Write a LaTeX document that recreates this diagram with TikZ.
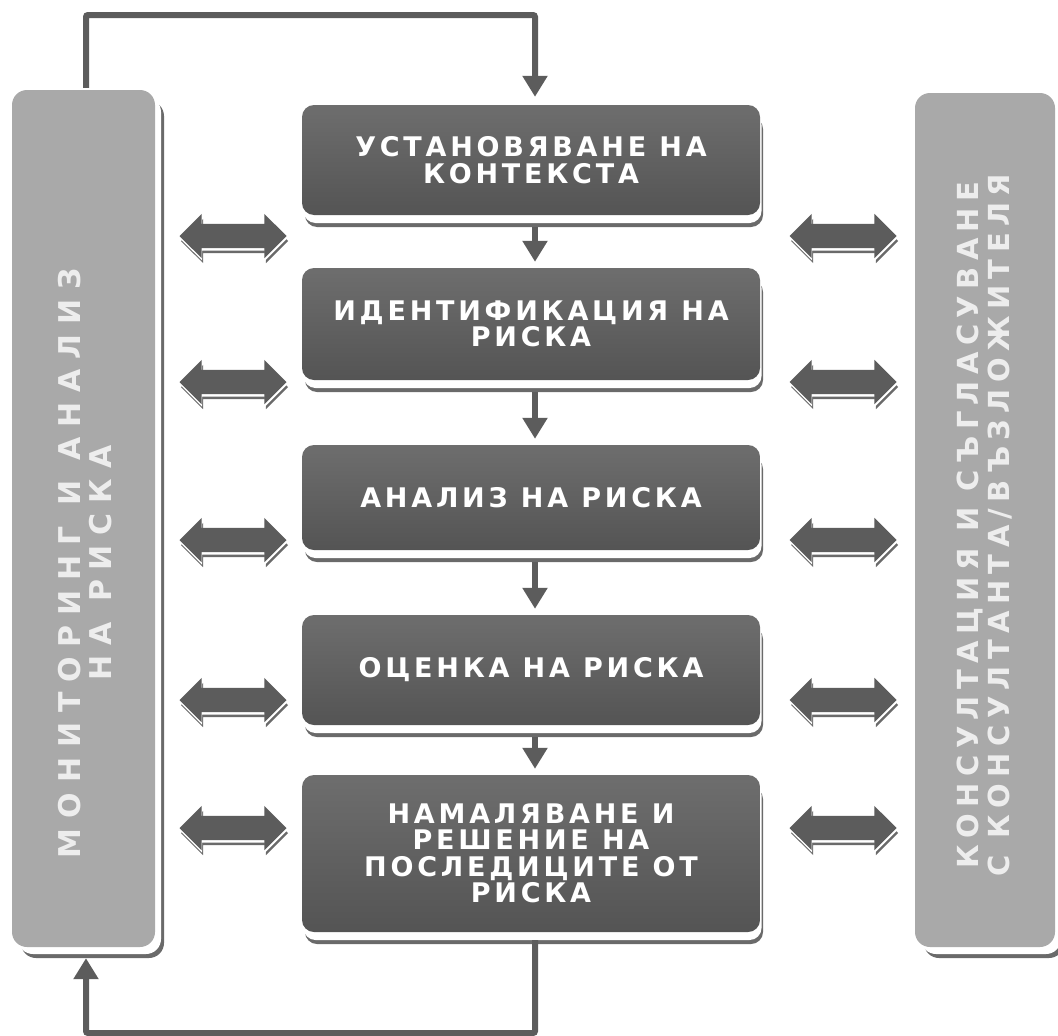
\documentclass[tikz,border=0pt]{standalone}
\usepackage{fontspec}
\usetikzlibrary{shapes.arrows,shadows,arrows.meta,calc}
\newfontfamily\boxfont{DejaVu Sans Bold}[LetterSpace=14]
\newfontfamily\lsidefont{DejaVu Sans Bold}[LetterSpace=33]
\newfontfamily\rsidefont{DejaVu Sans Bold}[LetterSpace=22]
\definecolor{sidegray}{HTML}{A9A9A9}
\definecolor{linegray}{HTML}{5C5C5C}
\definecolor{shadowgray}{HTML}{6A6A6A}
\definecolor{sidetext}{HTML}{EDEDED}
\tikzset{
  procbox/.style={rounded corners=12pt, minimum width=458pt, inner sep=0pt,
    text=white, align=center,
    font=\boxfont\fontsize{27}{26.5}\selectfont,
    top color=black!57, bottom color=black!67,
    general shadow={fill=shadowgray, shadow xshift=3pt, shadow yshift=-12pt},
    general shadow={fill=white, shadow xshift=1.5pt, shadow yshift=-8pt}},
  sidebox/.style={rounded corners=15pt, fill=sidegray, inner sep=0pt,
    general shadow={fill=shadowgray, shadow xshift=9pt, shadow yshift=-11pt},
    general shadow={fill=white, shadow xshift=6pt, shadow yshift=-7pt}},
  sidelabel/.style={rotate=90, align=center, text=sidetext},
  dbl/.style={double arrow, fill=linegray, minimum height=107pt,
    inner xsep=0pt, inner ysep=12pt, double arrow head extend=10pt,
    general shadow={fill=shadowgray, shadow xshift=1.5pt, shadow yshift=-5pt},
    general shadow={fill=white, shadow xshift=0.5pt, shadow yshift=-2.5pt}},
  flow/.style={draw=linegray, line width=6pt, rounded corners=2pt,
    -{Triangle[width=24pt,length=21pt]}}
}
\begin{document}
\begin{tikzpicture}[x=1pt,y=-1pt]
\fill[white] (0,0) rectangle (1058,1036);
\useasboundingbox (0,0) rectangle (1058,1036);

% side boxes
\node[sidebox, minimum width=143pt, minimum height=857pt] (lbox) at (83.5,518.5) {};
\node[sidebox, minimum width=140pt, minimum height=854pt] (rbox) at (985,520) {};
\node[sidelabel, font=\lsidefont\fontsize{30}{31}\selectfont] (ltext) at (85,563) {МОНИТОРИНГ И АНАЛИЗ\\НА РИСКА};
\node[sidelabel, font=\rsidefont\fontsize{29}{31}\selectfont] (rtext) at (985,525) {КОНСУЛТАЦИЯ И СЪГЛАСУВАНЕ\\С КОНСУЛТАНТА/ВЪЗЛОЖИТЕЛЯ};

% process boxes
\node[procbox, minimum height=110pt] (b1) at (531,160) {УСТАНОВЯВАНЕ НА\\КОНТЕКСТА};
\node[procbox, minimum height=112pt] (b2) at (531,324) {ИДЕНТИФИКАЦИЯ НА\\РИСКА};
\node[procbox, minimum height=105pt] (b3) at (531,497.5) {АНАЛИЗ НА РИСКА};
\node[procbox, minimum height=110pt] (b4) at (531,670) {ОЦЕНКА НА РИСКА};
\node[procbox, minimum height=157pt] (b5) at (531,853.5) {НАМАЛЯВАНЕ И\\РЕШЕНИЕ НА\\ПОСЛЕДИЦИТЕ ОТ\\РИСКА};

% double arrows
\foreach \i/\y in {1/236,2/382,3/540,4/700,5/828}{
  \node[dbl] (la\i) at (233,\y) {};
  \node[dbl] (ra\i) at (843,\y) {};
}

% flow arrows between boxes
\draw[flow] ($(b1.south)+(4,12)$) -- ($(b2.north)+(4,-6)$);
\draw[flow] ($(b2.south)+(4,12)$) -- ($(b3.north)+(4,-6)$);
\draw[flow] ($(b3.south)+(4,12)$) -- ($(b4.north)+(4,-6)$);
\draw[flow] ($(b4.south)+(4,12)$) -- ($(b5.north)+(4,-6)$);

% feedback loops
\coordinate (topc) at (86,15);
\coordinate (botc) at (86,1033);
\draw[flow] ($(lbox.north)+(2.5,-2)$) -- (topc) -| ($(b1.north)+(4,-8)$);
\draw[flow] ($(b5.south)+(4,8)$) |- (botc) -- ($(lbox.south)+(2.5,11)$);
\end{tikzpicture}
\end{document}
